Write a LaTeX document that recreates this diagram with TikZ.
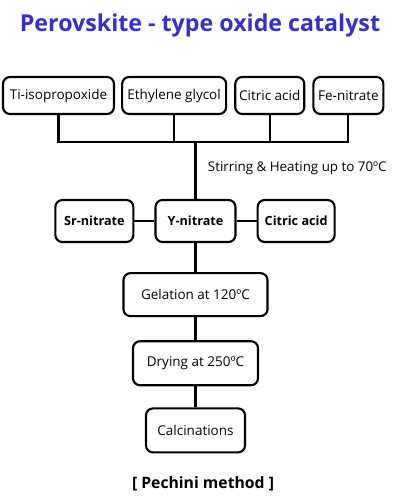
\documentclass[tikz,border=0pt]{standalone}
\usepackage{fontspec}
\setmainfont{Open Sans}
\usetikzlibrary{positioning}
\definecolor{titleblue}{RGB}{52,48,204}

\begin{document}
\begin{tikzpicture}[
	x=0.025cm, y=-0.025cm, % one unit is one pixel of the sketch
	node distance=0.5cm,
	box/.style={draw, line width=1.5pt, rounded corners=5pt, inner sep=0pt, font=\fontsize{9.6}{11}\selectfont}, % sets the look of every step
	boldbox/.style={box, font=\fontsize{9}{11}\selectfont\bfseries},
	link/.style={line width=1.5pt},
	]
	\useasboundingbox (0,0) rectangle (400,500);
	\node[font=\fontsize{16.5}{19}\selectfont\bfseries, text=titleblue] (title) at (200,25) {Perovskite - type oxide catalyst};

	% starting materials
	\node[box, minimum width=2.775cm, minimum height=0.925cm] (ti) at (58.5,95.5) {Ti-isopropoxide};
	\node[box, minimum width=2.6cm, minimum height=0.925cm, right=0.15cm of ti] (eg) {Ethylene glycol};
	\node[box, minimum width=1.725cm, minimum height=0.925cm, right=0.175cm of eg] (ca1) {Citric acid};
	\node[box, minimum width=1.75cm, minimum height=0.925cm, right=0.175cm of ca1] (fe) {Fe-nitrate};

	% second row
	\node[boldbox, minimum width=2cm, minimum height=1.05cm] (yn) at (195.5,221) {Y-nitrate};
	\node[boldbox, minimum width=1.95cm, minimum height=1.05cm, left=of yn] (sr) {Sr-nitrate};
	\node[boldbox, minimum width=1.925cm, minimum height=1.05cm, right=of yn] (ca2) {Citric acid};
	\coordinate (bus) at (yn.north |- 0,142);
	\node[anchor=west, font=\fontsize{9.5}{11}\selectfont] (stir) at (203,168) {Stirring \& Heating up to 70ºC};

	% processing steps
	\node[box, minimum width=3.6cm, minimum height=1.075cm, below=0.725cm of yn] (gel) {Gelation at 120ºC};
	\node[box, minimum width=3.125cm, minimum height=1.1cm, below=0.575cm of gel] (dry) {Drying at 250ºC};
	\node[box, minimum width=2.475cm, minimum height=1.1cm, below=0.525cm of dry] (cal) {Calcinations};
	\node[font=\fontsize{11.2}{13}\selectfont\bfseries] (method) at (203,484) {[ Pechini method ]};

	\draw[link]
		(ti.south) -- (ti.south |- bus) -- (fe.south |- bus) -- (fe.south)
		(eg.south) -- (eg.south |- bus)
		(ca1.south) -- (ca1.south |- bus)
		(bus) -- (yn.north)
		(sr) -- (yn) -- (ca2)
		(yn) -- (gel) -- (dry) -- (cal)
	;
\end{tikzpicture}
\end{document}
